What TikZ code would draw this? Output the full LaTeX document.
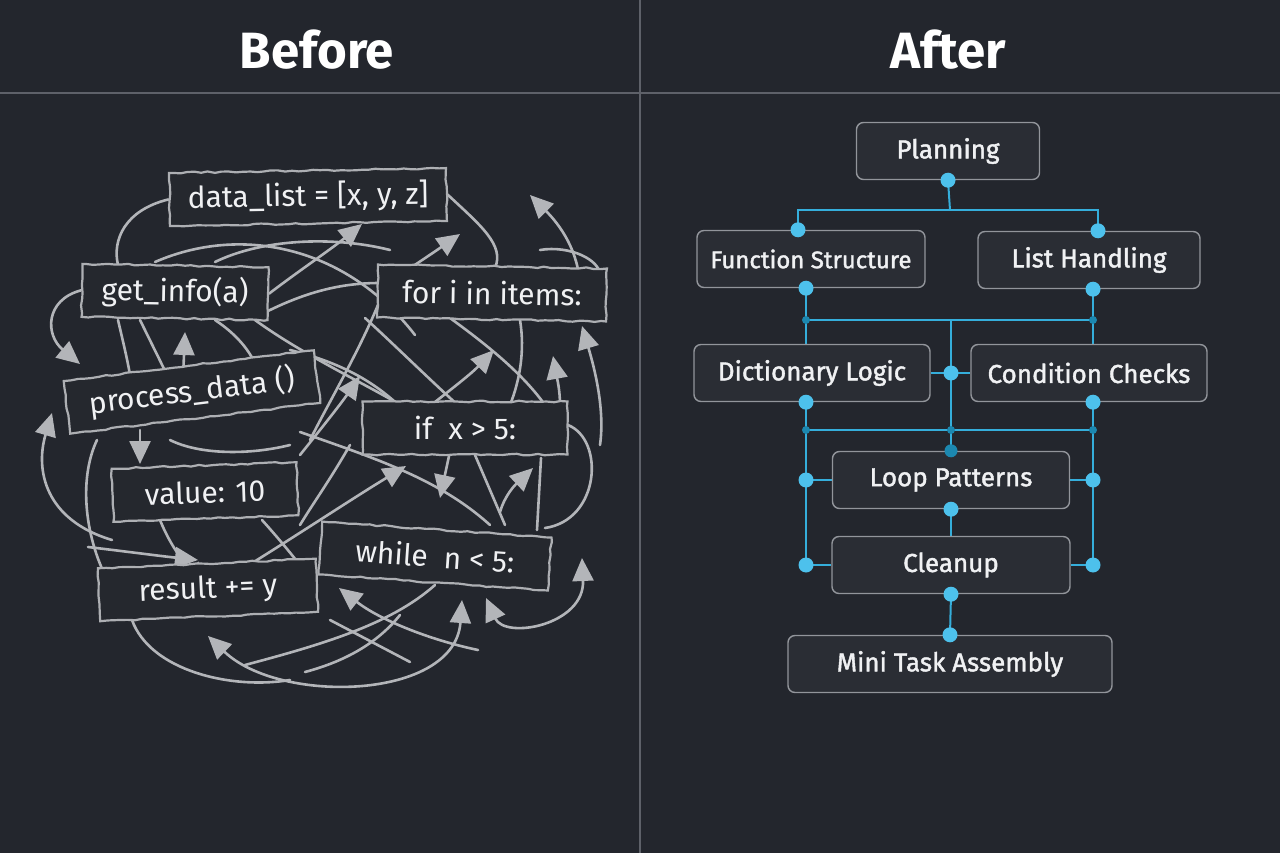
\documentclass[tikz,border=0pt]{standalone}
\usepackage{fontspec}
\setmainfont{Fira Sans}
\newfontfamily\medfamily{Fira Sans}[UprightFeatures={FakeBold=1.6}]
\usetikzlibrary{positioning,arrows.meta,decorations.pathmorphing,calc}
\definecolor{bgdark}{HTML}{23262D}
\definecolor{rulegray}{HTML}{5E6169}
\definecolor{boxfill}{HTML}{2A2D34}
\definecolor{boxedge}{HTML}{92959B}
\definecolor{codefill}{HTML}{25282E}
\definecolor{sketchgray}{HTML}{ADAFB3}
\definecolor{curvegray}{HTML}{B3B5B9}
\definecolor{textwhite}{HTML}{F0F1F3}
\definecolor{linkcyan}{HTML}{35AEDB}
\definecolor{dotcyan}{HTML}{4DC1EC}
\definecolor{darkcyan}{HTML}{1C88B0}
\newcommand\titlefont{\fontsize{51}{55}\selectfont\bfseries}
\newcommand\codefont{\fontsize{30}{34}\selectfont}
\newcommand\stepfont{\medfamily\fontsize{26}{30}\selectfont}
\pgfdeclarelayer{back}
\pgfdeclarelayer{mid}
\pgfsetlayers{back,mid,main}
\pgfmathsetseed{7}
\tikzset{
	title/.style={text=white, font=\titlefont},
	rulebar/.style={draw=rulegray, line width=1.6pt},
	codebox/.style={draw=sketchgray, line width=2.2pt, fill=codefill, text=textwhite,
		font=\codefont, minimum height=53pt, inner sep=0pt,
		decorate, decoration={random steps, segment length=7pt, amplitude=0.8pt}},
	stepbox/.style={rounded corners=7pt, draw=boxedge, line width=1.4pt, fill=boxfill,
		text=textwhite, font=\stepfont, minimum height=57pt, inner sep=0pt},
	tangle/.style={draw=curvegray, line width=2.6pt, line cap=round},
	tangarrow/.style={tangle, -{Triangle[length=23pt,width=21pt]}},
	twoway/.style={tangle, {Triangle[length=23pt,width=21pt]}-{Triangle[length=23pt,width=21pt]}},
	link/.style={draw=linkcyan, line width=2pt},
	bigdot/.style={circle, fill=dotcyan, inner sep=0pt, minimum size=15pt},
	smalldot/.style={circle, fill=darkcyan, inner sep=0pt, minimum size=8pt},
	hubdot/.style={circle, fill=darkcyan, inner sep=0pt, minimum size=13pt}
}
\begin{document}
\begin{tikzpicture}[x=1pt,y=-1pt]
	\useasboundingbox (0,0) rectangle (1280,853);
	\begin{pgfonlayer}{back}
		\fill[bgdark] (0,0) rectangle (1280,853);
		\draw[rulebar] (640,0) -- (640,853);
		\draw[rulebar] (0,93) -- (1280,93);
	\end{pgfonlayer}
	
	\node[title] (before) at (317,50) {Before};
	\node[title] (after) at (948,50) {After};
	
	% the tangle
	\node[codebox, minimum width=277pt, rotate=1] (dlist) at (308,197) {data\_list = [x, y, z]};
	\node[codebox, minimum width=186pt, rotate=-1] (getinfo) at (175,292) {get\_info(a)};
	\node[codebox, minimum width=229pt, rotate=-1] (foritems) at (492,293) {for i in items:};
	\node[codebox, minimum width=252pt, rotate=7] (procdata) at (192,392) {process\_data ()};
	\node[codebox, minimum width=205pt] (ifx) at (465,428) {if \ x > 5:};
	\node[codebox, minimum width=185pt, rotate=2] (value) at (205,492) {value: 10};
	\node[codebox, minimum width=230pt, rotate=-4] (whilen) at (435,556) {while \ n < 5:};
	\node[codebox, minimum width=218pt, rotate=2.5] (result) at (208,590) {result += y};
	
	\begin{pgfonlayer}{mid}
		% top
		\draw[tangle] (dlist.west) .. controls (125,210) and (112,240) .. (118,265);
		\draw[tangle] (dlist.east) .. controls (480,225) and (505,245) .. (495,268);
		\draw[tangarrow] (580,285) .. controls (578,250) and (560,225) .. (530,195);
		\draw[tangle] (155,262) .. controls (240,225) and (345,245) .. (415,335);
		\draw[tangle] (215,262) .. controls (260,240) and (330,235) .. (390,250);
		\draw[tangarrow] (getinfo.east) .. controls (300,270) and (330,250) .. (362,224);
		\draw[tangarrow] (385,285) .. controls (410,268) and (430,255) .. (460,234);
		\draw[tangle] (266,312) .. controls (310,290) and (345,283) .. (380,283);
		\draw[tangarrow] (getinfo.west) .. controls (45,300) and (45,335) .. (80,364);
		\draw[tangle] (540,250) .. controls (570,245) and (600,260) .. (600,275);
		% middle
		\draw[tangarrow] (183,378) -- (185,332);
		\draw[tangle] (118,320) .. controls (125,350) and (130,370) .. (133,395);
		\draw[tangle] (140,320) -- (172,385);
		\draw[tangle] (215,320) .. controls (245,340) and (255,360) .. (262,380);
		\draw[tangle] (255,320) .. controls (310,360) and (380,390) .. (425,420);
		\draw[tangle] (365,318) .. controls (400,350) and (440,390) .. (480,425);
		\draw[tangle] (380,300) .. controls (360,350) and (330,400) .. (310,440);
		\draw[tangarrow] (425,410) .. controls (450,390) and (470,375) .. (494,350);
		\draw[tangle] (520,320) .. controls (525,350) and (520,380) .. (510,405);
		\draw[tangle] (450,318) .. controls (480,340) and (520,370) .. (545,405);
		\draw[tangarrow] (600,445) .. controls (605,410) and (595,370) .. (582,326);
		\draw[tangarrow] (560,405) .. controls (560,390) and (557,378) .. (553,356);
		\draw[tangle] (290,350) .. controls (330,360) and (365,375) .. (395,402);
		\draw[tangarrow] (300,455) .. controls (320,430) and (340,405) .. (360,376);
		% left
		\draw[tangarrow] (112,540) .. controls (45,520) and (35,470) .. (52,413);
		\draw[tangarrow] (140,430) -- (140,464);
		\draw[tangle] (97,440) .. controls (78,480) and (85,540) .. (110,585);
		\draw[tangle] (170,440) .. controls (200,455) and (250,455) .. (290,445);
		\draw[tangarrow] (88,547) .. controls (130,552) and (160,556) .. (198,560);
		\draw[tangarrow] (160,520) .. controls (170,545) and (185,565) .. (210,584);
		\draw[tangarrow] (228,578) .. controls (290,540) and (350,500) .. (406,466);
		\draw[tangle] (350,445) .. controls (330,480) and (312,505) .. (300,525);
		\draw[tangle] (300,432) .. controls (380,460) and (440,480) .. (490,525);
		\draw[tangle] (262,520) .. controls (280,540) and (292,555) .. (300,565);
		% lower right
		\draw[tangarrow] (449,456) -- (440,498);
		\draw[tangarrow] (500,512) .. controls (505,495) and (515,485) .. (533,468);
		\draw[tangle] (475,455) -- (505,525);
		\draw[tangle] (541,458) -- (537,530);
		\draw[tangle] (568,425) .. controls (605,440) and (600,520) .. (545,528);
		% bottom
		\draw[twoway] (208,636) .. controls (280,705) and (455,700) .. (462,600);
		\draw[tangle] (132,620) .. controls (150,670) and (230,690) .. (290,680);
		\draw[tangarrow] (478,650) .. controls (430,640) and (380,620) .. (339,588);
		\draw[tangle] (245,665) .. controls (320,645) and (390,625) .. (435,585);
		\draw[tangle] (330,620) -- (410,662);
		\draw[tangle] (400,615) .. controls (380,640) and (350,660) .. (305,672);
		\draw[twoway] (486,598) .. controls (505,640) and (585,625) .. (582,558);
	\end{pgfonlayer}
	
	% the plan
	\node[stepbox, minimum width=183pt] (plan) at (948,151) {Planning};
	\node[stepbox, minimum width=228pt, font=\medfamily\fontsize{24}{28}\selectfont] (func) at (811,259) {Function Structure};
	\node[stepbox, minimum width=222pt] (list) at (1089,260) {List Handling};
	\node[stepbox, minimum width=236pt] (dict) at (812,373) {Dictionary Logic};
	\node[stepbox, minimum width=236pt] (cond) at (1089,373) {Condition Checks};
	\node[stepbox, minimum width=237pt] (loop) at (951,480) {Loop Patterns};
	\node[stepbox, minimum width=238pt] (clean) at (951,565) {Cleanup};
	\node[stepbox, minimum width=324pt] (mini) at (950,664) {Mini Task Assembly};
	
	\coordinate (colL) at (806,0);
	\coordinate (colM) at (951,0);
	\coordinate (colR) at (1093,0);
	\coordinate (hubA) at (950,210);
	\coordinate (busB) at (951,320);
	\coordinate (busC) at (951,430);
	\coordinate (funcIn) at ([xshift=-13pt]func.north);
	\coordinate (listIn) at ([xshift=9pt]list.north);
	
	\begin{pgfonlayer}{mid}
		\draw[link] (plan.south) -- (hubA);
		\draw[link] (funcIn) |- (hubA) -| (listIn);
		\draw[link] (colL |- func.south) -- (colL |- dict.north);
		\draw[link] (colR |- list.south) -- (colR |- cond.north);
		\draw[link] (colL |- busB) -- (colR |- busB);
		\draw[link] (busB) -- (loop.north);
		\draw[link] (dict.east) -- (cond.west);
		\draw[link] (colL |- dict.south) -- (colL |- clean.west);
		\draw[link] (colR |- cond.south) -- (colR |- clean.east);
		\draw[link] (colL |- busC) -- (colR |- busC);
		\draw[link] (loop.west) -- (colL |- loop.west);
		\draw[link] (loop.east) -- (colR |- loop.east);
		\draw[link] (clean.west) -- (colL |- clean.west);
		\draw[link] (clean.east) -- (colR |- clean.east);
		\draw[link] (loop.south) -- (clean.north);
		\draw[link] (clean.south) -- (mini.north);
	\end{pgfonlayer}
	
	\foreach \p in {plan.south, funcIn, listIn,
		{colL |- func.south}, {colR |- list.south}, {colM |- dict.east},
		{colL |- dict.south}, {colR |- cond.south}, {colL |- loop.west},
		{colR |- loop.east}, loop.south, {colL |- clean.west}, {colR |- clean.east},
		clean.south, mini.north}
		\node[bigdot] at (\p) {};
	\foreach \p in {{colL |- busB}, {colR |- busB}, {colL |- busC}, {colM |- busC}, {colR |- busC}}
		\node[smalldot] at (\p) {};
	\node[hubdot] at (loop.north) {};
\end{tikzpicture}
\end{document}
